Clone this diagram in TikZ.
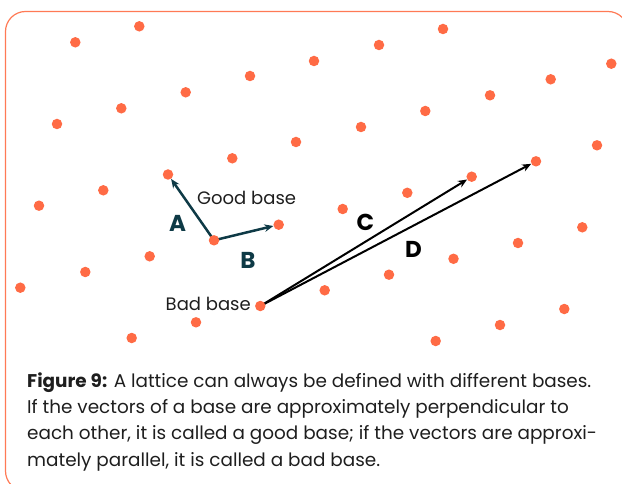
\documentclass[tikz,border=0pt]{standalone}
\usepackage{fontspec}
\setmainfont{Poppins}
\usetikzlibrary{arrows.meta,backgrounds}
\definecolor{dotc}{HTML}{FF6B45}
\definecolor{framec}{HTML}{FF7A55}
\definecolor{goodc}{HTML}{0E3A46}
\definecolor{txtc}{HTML}{1E1E1E}
\begin{document}
\begin{tikzpicture}[x=1pt,y=-1pt,
  dot/.style={circle,fill=dotc,minimum size=10.5pt,inner sep=0pt},
  goodarrow/.style={draw=goodc,line width=2.5pt,-{Stealth[length=9pt,width=7.5pt]}},
  badarrow/.style={draw=black,line width=2pt,-{Stealth[length=9pt,width=7.5pt]}},
  veclabel/.style={font=\fontsize{23}{23}\selectfont\bfseries,inner sep=0pt},
  smalllabel/.style={font=\fontsize{18}{18}\selectfont,text=txtc,inner sep=0pt}]
\useasboundingbox (0,0) rectangle (622,484);
\draw[framec,line width=1.2pt,rounded corners=20pt] (5.5,11.5) rectangle (628,491);
% lattice points
\foreach \px/\py [count=\i] in {75.3/42.3, 139.3/26.3,
  57/124, 121.3/108.3, 185.7/92.3, 250/76, 314/61, 379/45, 443/29,
  39/205.7, 103.3/190.3, 232.3/158.3, 296/142, 361/127, 425.3/111, 490/95.3, 550.7/79.3, 611.3/63.7,
  20.3/287.7, 85.3/272, 149.7/256.3, 342.7/209, 407.3/192.8, 597/145.3,
  131.7/338, 196/322.3, 324.7/290.3, 389/274.7, 453.5/258.8, 518/243, 582.3/227.3,
  435.7/341, 500/325, 564.3/309}
  \node[dot] (d\i) at (\px,\py) {};
\node[dot] (tA) at (168,174.5) {};
\node[dot] (oG) at (214,240.3) {};
\node[dot] (tB) at (278.7,224.7) {};
\node[dot] (tC) at (471.7,176.7) {};
\node[dot] (tD) at (536,161.3) {};
\node[dot] (oB) at (260.3,306) {};
% vectors
\begin{pgfonlayer}{background}
\draw[goodarrow] (oG.center) -- (tA);
\draw[goodarrow] (oG.center) -- (tB);
\draw[badarrow] (oB.center) -- (tC);
\draw[badarrow] (oB.center) -- (tD);
\end{pgfonlayer}
% labels
\node[veclabel,text=goodc] (lA) at (177.5,223) {A};
\node[veclabel,text=goodc] (lB) at (248,260) {B};
\node[veclabel,text=black] (lC) at (365.5,222.5) {C};
\node[veclabel,text=black] (lD) at (413.5,249) {D};
\node[smalllabel,anchor=base west] (good) at (197,205) {Good base};
\node[smalllabel,anchor=base east] (bad) at (251,310) {Bad base};
% caption (base anchor = baseline of last line)
\node[anchor=base west,align=left,inner sep=0pt,text=txtc,
  font=\fontsize{18.4}{26.3}\selectfont] (cap) at (27,466)
  {\textbf{Figure 9:} A lattice can always be defined with different bases.\\
   If the vectors of a base are approximately perpendicular to\\
   each other, it is called a good base; if the vectors are approxi-\\
   mately parallel, it is called a bad base.};
\end{tikzpicture}
\end{document}
